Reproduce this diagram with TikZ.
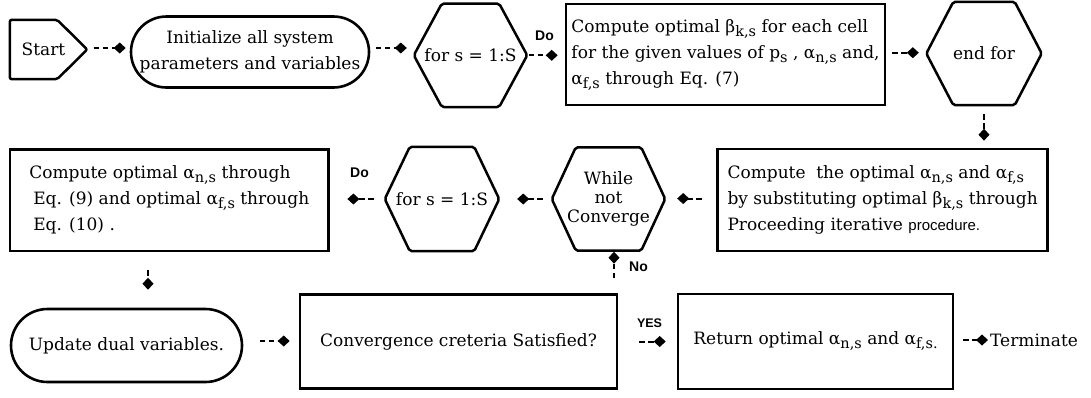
\documentclass[tikz,border=0pt]{standalone}
\usepackage{fontspec}
\setmainfont{DejaVu Serif}
\setsansfont{Liberation Sans}
\usetikzlibrary{shapes.misc,arrows.meta}
\newcommand\sbs[1]{\raisebox{-4pt}{\fontsize{14.5}{14.5}\selectfont #1}}
\newcommand\hexout[2]{\draw[shapeline] (#1.west) -- ([xshift=#2]#1.north west) -- ([xshift=-#2]#1.north east) -- (#1.east) -- ([xshift=-#2]#1.south east) -- ([xshift=#2]#1.south west) -- cycle;}
\begin{document}
\begin{tikzpicture}[x=1pt,y=-1pt,
  every node/.style={font=\fontsize{17}{26}\selectfont},
  shapeline/.style={line width=2.5pt, line join=round, rounded corners=2pt},
  box/.style={draw, line width=2.6pt, rectangle, align=left, inner sep=4pt},
  rbox/.style={draw, line width=2.6pt, rounded rectangle, align=center, inner sep=4pt},
  hexnode/.style={rectangle, inner sep=0pt, align=center},
  conn/.style={line width=2pt, dash pattern=on 5.5pt off 3.5pt, -{Diamond[length=12pt,width=11pt]}},
  lbl/.style={font=\sffamily\bfseries\fontsize{14}{15}\selectfont, inner sep=0pt}]
\path[use as bounding box, fill=white] (0,0) rectangle (1091,397);

% row 1
\node[hexnode, minimum width=77, minimum height=59] (st) at (48.5,49.5) {Start\hspace{10pt}};
\draw[shapeline] (st.north west) -- ([xshift=-30pt]st.north east) -- (st.east) -- ([xshift=-30pt]st.south east) -- (st.south west) -- cycle;
\node[rbox, minimum width=246, minimum height=71] (in) at (250,52) {Initialize all system\\parameters and variables};
\node[hexnode, minimum width=113, minimum height=103] (f1) at (470.5,55.3) {for s = 1:S};
\hexout{f1}{28pt}
\node[box, minimum width=319, minimum height=101] (b1) at (725.5,54.5) {Compute optimal β\sbs{k,s} for each cell\\for the given values of p\sbs{s} , α\sbs{n,s} and,\\α\sbs{f,s} through Eq. (7)};
\node[hexnode, minimum width=115, minimum height=103] (ef) at (984,53.5) {end for};
\hexout{ef}{27pt}

% row 2
\node[box, minimum width=330, minimum height=102] (b2) at (882.6,200) {Compute\ \ the optimal α\sbs{n,s} and α\sbs{f,s}\\by substituting optimal β\sbs{k,s} through\\Proceeding iterative {\sffamily\fontsize{15}{26}\selectfont procedure.}};
\node[hexnode, minimum width=113, minimum height=103, font=\fontsize{17}{19}\selectfont] (wh) at (608.5,199) {While\\not\\Converge};
\hexout{wh}{24pt}
\node[hexnode, minimum width=114, minimum height=104] (f2) at (442,199) {for s = 1:S};
\hexout{f2}{25pt}
\node[box, minimum width=318.6, minimum height=101.4] (b3) at (169.3,200.3) {Compute optimal α\sbs{n,s} through\\\hspace*{4pt}Eq. (9) and optimal α\sbs{f,s} through\\\hspace*{4pt}Eq. (10) .};

% row 3
\node[rbox, minimum width=239, minimum height=73] (up) at (126.5,345.5) {Update dual variables.};
\node[box, align=center, minimum width=317, minimum height=94] (b4) at (458.5,341.5) {Convergence creteria Satisfied?};
\node[box, align=center, minimum width=275, minimum height=95] (b5) at (815.5,341.5) {Return optimal α\sbs{n,s} and α\sbs{f,s.}};
\node[anchor=west, inner sep=0pt] (tm) at (990,340) {Terminate};

% labels
\node[lbl] (do1) at (544.5,36) {Do};
\node[lbl] (do2) at (359.5,173) {Do};
\node[lbl] (no) at (638.5,266.5) {No};
\node[lbl, font=\sffamily\bfseries\fontsize{12.5}{13}\selectfont] (yes) at (649.5,323) {YES};

% connectors
\draw[conn, shorten <=6.5pt, shorten >=4pt] ([yshift=1.5pt]st.east) -- ([yshift=1.5pt]st.east -| in.west);
\draw[conn, shorten <=5.6pt, shorten >=7pt] ([yshift=4pt]in.east) -- ([yshift=4pt]in.east -| f1.west);
\draw[conn, shorten <=1.5pt, shorten >=7pt] (f1.east) -- (f1.east -| b1.west);
\draw[conn, shorten <=6pt, shorten >=7.5pt] ([yshift=1.8pt]b1.east) -- ([yshift=1.8pt]b1.east -| ef.west);
\draw[conn, shorten <=9pt, shorten >=7pt] (ef.south) -- (ef.south |- b2.north);
\draw[conn, shorten <=14.5pt, shorten >=12pt] ([yshift=1.5pt]b2.west) -- ([yshift=1.5pt]b2.west -| wh.east);
\draw[conn, shorten <=9pt, shorten >=18pt] (wh.west) -- (wh.west -| f2.east);
\draw[conn, shorten <=11pt, shorten >=17.5pt] (f2.west) -- (f2.west -| b3.east);
\draw[conn, shorten <=18pt, shorten >=18pt] ([xshift=-21.3pt]b3.south) -- ([xshift=-21.3pt]b3.south |- up.north);
\draw[conn, shorten <=16.5pt, shorten >=9pt] ([yshift=4.5pt]up.east) -- ([yshift=4.5pt]up.east -| b4.west);
\draw[conn, shorten <=15pt, shorten >=1pt] ([xshift=5.5pt]wh.south |- b4.north) -- ([xshift=5.5pt]wh.south);
\draw[conn, shorten <=21pt, shorten >=11pt] (b4.east) -- (b4.east -| b5.west);
\draw[conn, shorten <=9pt, shorten >=2pt] ([yshift=1.5pt]b5.east) -- (tm.west);
\end{tikzpicture}
\end{document}
